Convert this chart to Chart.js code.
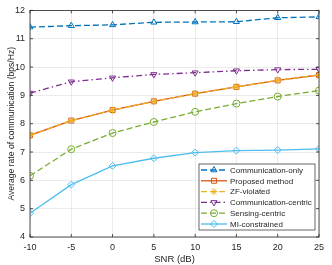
<!DOCTYPE html>
<html>
<head>
<meta charset="utf-8">
<script src="https://cdn.jsdelivr.net/npm/chart.js@4"></script>
<style>
  html, body { margin: 0; padding: 0; background: #fff; }
  #wrap { width: 332px; height: 265px; }
</style>
</head>
<body>
<div id="wrap"><canvas id="grafico" width="332" height="265"></canvas></div>
<script>
// dados
const snr = [-10, -5, 0, 5, 10, 15, 20, 25];
const commOnly = [11.41, 11.46, 11.49, 11.58, 11.59, 11.60, 11.74, 11.77];
const proposto = [7.59, 8.11, 8.48, 8.79, 9.06, 9.30, 9.53, 9.72];
const zfViolado = [7.59, 8.11, 8.48, 8.79, 9.06, 9.30, 9.53, 9.72];
const commCentric = [9.08, 9.48, 9.62, 9.74, 9.80, 9.87, 9.91, 9.92];
const sensCentric = [6.16, 7.10, 7.67, 8.06, 8.42, 8.71, 8.96, 9.17];
const miRestrito = [4.84, 5.85, 6.51, 6.78, 6.98, 7.05, 7.07, 7.11];
const ticksX = [-10, -5, 0, 5, 10, 15, 20, 25];
const ticksY = [4, 5, 6, 7, 8, 9, 10, 11, 12];

const fonte = 'Helvetica, "Liberation Sans", Arial, sans-serif';

const serie = (label, dados, cor, estilo, tracejado, rot) => ({
    label,
    data: snr.map((x, i) => ({ x, y: dados[i] })),
    borderColor: cor,
    backgroundColor: 'rgba(0,0,0,0)',
    borderWidth: 1.3,
    borderDash: tracejado,
    pointStyle: estilo,
    pointRotation: rot || 0,
    pointRadius: 3.5,
    pointBorderWidth: 1,
    pointBackgroundColor: 'rgba(0,0,0,0)',
    pointBorderColor: cor,
    tension: 0
});

const datasets = [
    serie('Communication-only', commOnly, '#0072BD', 'triangle', [6, 3]),
    serie('Proposed method', proposto, '#D95319', 'rect', []),
    serie('ZF-violated', zfViolado, '#EDB120', 'star', [6, 3]),
    serie('Communication-centric', commCentric, '#7E2F8E', 'triangle', [6, 3, 1.5, 3], 180),
    serie('Sensing-centric', sensCentric, '#77AC30', 'circle', [6, 3]),
    serie('MI-constrained', miRestrito, '#4DBEEE', 'rectRot', [])
];
datasets.forEach((d, i) => { d.order = datasets.length - i; });

const desenharMarcador = (ctx, d, x, y) => {
    const opts = { pointStyle: d.pointStyle, rotation: d.pointRotation, radius: d.pointRadius, borderWidth: d.pointBorderWidth };
    ctx.strokeStyle = d.borderColor;
    ctx.fillStyle = 'rgba(0,0,0,0)';
    ctx.lineWidth = d.pointBorderWidth;
    ctx.setLineDash([]);
    Chart.helpers.drawPoint(ctx, opts, x, y);
};

// moldura, marcas internas e legenda ao estilo MATLAB
const moldura = {
    id: 'moldura',
    afterDraw(chart) {
        const { ctx, chartArea: a, scales } = chart;
        ctx.save();
        ctx.strokeStyle = '#262626';
        ctx.lineWidth = 0.8;
        ctx.setLineDash([]);
        ctx.strokeRect(a.left, a.top, a.right - a.left, a.bottom - a.top);
        ctx.beginPath();
        ticksX.forEach(t => {
            const x = scales.x.getPixelForValue(t);
            ctx.moveTo(x, a.bottom); ctx.lineTo(x, a.bottom - 3);
            ctx.moveTo(x, a.top); ctx.lineTo(x, a.top + 3);
        });
        ticksY.forEach(t => {
            const y = scales.y.getPixelForValue(t);
            ctx.moveTo(a.left, y); ctx.lineTo(a.left + 3, y);
            ctx.moveTo(a.right, y); ctx.lineTo(a.right - 3, y);
        });
        ctx.stroke();

        // legenda
        const L = 199, T = 164, W = 116, H = 66;
        ctx.fillStyle = '#fff';
        ctx.fillRect(L, T, W, H);
        ctx.strokeStyle = '#262626';
        ctx.lineWidth = 0.7;
        ctx.strokeRect(L, T, W, H);
        ctx.font = '8px ' + fonte;
        ctx.textBaseline = 'middle';
        datasets.forEach((d, i) => {
            const y = T + 6 + i * 10.8;
            ctx.strokeStyle = d.borderColor;
            ctx.lineWidth = d.borderWidth;
            ctx.setLineDash(d.borderDash);
            ctx.beginPath();
            ctx.moveTo(L + 2, y); ctx.lineTo(L + 28, y);
            ctx.stroke();
            desenharMarcador(ctx, d, L + 15, y);
            ctx.fillStyle = '#262626';
            ctx.fillText(d.label, L + 31, y + 0.5);
        });
        ctx.restore();
    }
};

new Chart(document.getElementById('grafico').getContext('2d'), {
    type: 'line',
    data: { datasets },
    plugins: [moldura],
    options: {
        responsive: false,
        animation: false,
        layout: { padding: { left: 0, right: 13, top: 8, bottom: 0 } },
        plugins: { legend: { display: false }, tooltip: { enabled: false } },
        scales: {
            x: {
                type: 'linear', min: -10, max: 25,
                afterBuildTicks: (s) => { s.ticks = ticksX.map(v => ({ value: v })); },
                afterFit: (s) => { s.height = 28; },
                grid: { color: '#e6e6e6', drawTicks: false, lineWidth: 0.8 },
                border: { display: false },
                ticks: { color: '#262626', font: { size: 9, family: fonte }, padding: 5, maxRotation: 0 },
                title: { display: true, text: 'SNR (dB)', color: '#262626', font: { size: 9.5, family: fonte }, padding: { top: 1, bottom: 0 } }
            },
            y: {
                min: 4, max: 12,
                afterBuildTicks: (s) => { s.ticks = ticksY.map(v => ({ value: v })); },
                afterFit: (s) => { s.width = 30; },
                grid: { color: '#e6e6e6', drawTicks: false, lineWidth: 0.8 },
                border: { display: false },
                ticks: { color: '#262626', font: { size: 9, family: fonte }, padding: 5 },
                title: { display: true, text: 'Average rate of communication (bps/Hz)', color: '#262626', font: { size: 8.6, family: fonte }, padding: { top: 6, bottom: 0 } }
            }
        }
    }
});
</script>
</body>
</html>
